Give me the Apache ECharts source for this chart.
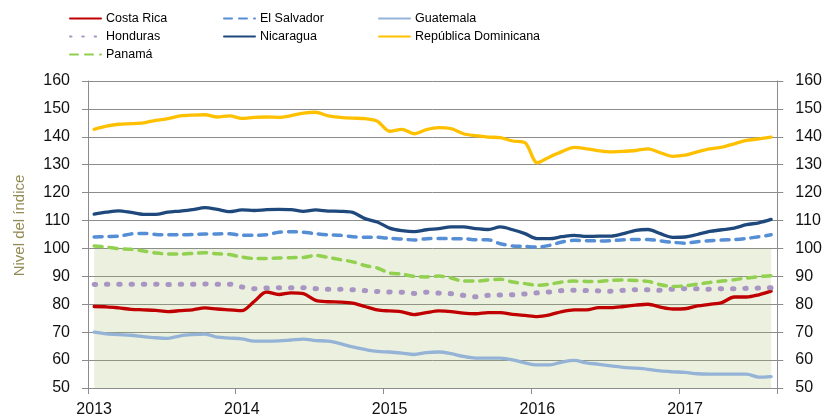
<!DOCTYPE html>
<html>
<head>
<meta charset="utf-8">
<script src="https://cdn.jsdelivr.net/npm/echarts@6/dist/echarts.min.js"></script>
<style>
  html, body { margin: 0; padding: 0; background: #ffffff; }
  #chart { width: 825px; height: 419px; }
</style>
</head>
<body>
<div id="chart"></div>
<script>
const months = [
  '2013-01','2013-02','2013-03','2013-04','2013-05','2013-06','2013-07','2013-08','2013-09','2013-10','2013-11','2013-12',
  '2014-01','2014-02','2014-03','2014-04','2014-05','2014-06','2014-07','2014-08','2014-09','2014-10','2014-11','2014-12',
  '2015-01','2015-02','2015-03','2015-04','2015-05','2015-06','2015-07','2015-08','2015-09','2015-10','2015-11','2015-12',
  '2016-01','2016-02','2016-03','2016-04','2016-05','2016-06','2016-07','2016-08','2016-09','2016-10','2016-11','2016-12',
  '2017-01','2017-02','2017-03','2017-04','2017-05','2017-06','2017-07','2017-08'
];

const costaRica = [
  79.2, 79.1, 78.7, 78.2, 78.0, 77.8, 77.4, 77.7, 78.0, 78.7, 78.3, 78.0, 77.7, 81.0,
  84.4, 83.5, 84.1, 83.8, 81.4, 80.9, 80.8, 80.4, 79.2, 78.0, 77.6, 77.3, 76.3, 77.0,
  77.6, 77.4, 76.8, 76.6, 77.0, 77.0, 76.4, 76.0, 75.6, 76.2, 77.4, 78.0, 78.0, 78.8,
  78.8, 79.2, 79.7, 80.0, 79.0, 78.3, 78.4, 79.4, 80.0, 80.6, 82.6, 82.6, 83.4, 84.7
];
const elSalvador = [
  104.1, 104.3, 104.4, 105.2, 105.4, 105.0, 104.9, 104.9, 105.0, 105.2, 105.2, 105.3, 104.7, 104.7,
  104.9, 105.8, 106.0, 105.8, 105.3, 104.9, 104.7, 104.2, 104.0, 104.0, 103.6, 103.4, 103.0, 103.5,
  103.6, 103.5, 103.5, 103.1, 103.1, 101.7, 100.9, 100.7, 100.5, 101.1, 102.3, 102.9, 102.8, 102.7,
  102.8, 103.1, 103.2, 103.2, 102.7, 102.2, 101.9, 102.4, 102.8, 103.0, 103.2, 103.6, 104.2, 104.9
];
const guatemala = [
  70.0, 69.4, 69.1, 68.9, 68.4, 68.0, 67.8, 68.7, 69.1, 69.3, 68.2, 67.9, 67.6, 66.8,
  66.8, 66.9, 67.2, 67.5, 67.0, 66.8, 65.9, 64.7, 63.8, 63.1, 62.9, 62.5, 62.0, 62.7,
  62.9, 62.3, 61.3, 60.7, 60.7, 60.7, 60.1, 59.0, 58.3, 58.3, 59.3, 59.9, 59.0, 58.5,
  57.9, 57.4, 57.1, 56.7, 56.1, 55.8, 55.6, 55.1, 55.0, 55.0, 55.0, 55.0, 53.9, 54.1
];
const honduras = [
  87.1, 87.2, 87.2, 87.2, 87.2, 87.2, 87.1, 87.2, 87.2, 87.3, 87.2, 87.2, 86.2, 85.6,
  85.8, 85.9, 85.9, 85.9, 85.6, 85.4, 85.4, 85.2, 84.9, 84.6, 84.4, 84.3, 83.9, 84.3,
  84.0, 83.8, 83.2, 82.7, 83.2, 83.3, 83.4, 83.7, 84.1, 84.4, 84.9, 85.0, 84.9, 84.8,
  84.7, 85.0, 85.2, 85.2, 85.0, 85.4, 85.6, 85.6, 85.4, 85.6, 85.6, 85.7, 85.8, 85.9
];
const nicaragua = [
  112.3, 113.0, 113.5, 112.9, 112.2, 112.2, 113.0, 113.4, 113.9, 114.6, 114.0, 113.2, 113.8, 113.6,
  113.9, 114.0, 113.9, 113.3, 113.8, 113.4, 113.3, 112.9, 110.7, 109.5, 107.3, 106.4, 106.0, 106.7,
  107.1, 107.7, 107.7, 107.1, 106.8, 107.7, 106.7, 105.3, 103.5, 103.5, 104.2, 104.7, 104.3, 104.4,
  104.4, 105.3, 106.5, 106.8, 105.3, 104.0, 104.1, 105.0, 106.1, 106.7, 107.3, 108.5, 109.2, 110.4
];
const republicaDominicana = [
  142.7, 143.8, 144.5, 144.7, 145.0, 145.9, 146.5, 147.5, 147.8, 147.9, 147.1, 147.5, 146.6, 147.0,
  147.1, 147.0, 147.6, 148.5, 148.8, 147.5, 147.0, 146.7, 146.5, 145.6, 142.0, 142.7, 141.1, 142.6,
  143.3, 142.9, 141.1, 140.4, 139.9, 139.7, 138.5, 137.9, 130.7, 132.8, 134.7, 136.2, 135.7, 135.0,
  134.6, 134.8, 135.1, 135.7, 134.3, 133.0, 133.4, 134.6, 135.7, 136.3, 137.5, 138.7, 139.3, 139.9
];
const panama = [
  100.9, 100.5, 99.9, 99.7, 99.1, 98.4, 98.0, 98.0, 98.2, 98.5, 98.1, 97.8, 96.9, 96.4,
  96.4, 96.6, 96.7, 96.8, 97.5, 96.8, 96.0, 95.2, 93.9, 93.0, 91.2, 90.8, 90.0, 89.8,
  90.1, 89.4, 88.3, 88.3, 88.7, 89.0, 88.0, 87.4, 86.8, 87.2, 88.0, 88.3, 88.2, 88.2,
  88.6, 88.7, 88.5, 88.2, 87.0, 86.4, 86.6, 87.2, 87.8, 88.3, 88.8, 89.4, 89.9, 90.2
];

// shaded reference band (index range 50–100)
const bandLow = 50;
const bandHigh = 100;

const yMin = 50, yMax = 160, yStep = 10;
const axisTitle = 'Nivel del índice';

const names = ['Costa Rica', 'El Salvador', 'Guatemala', 'Honduras', 'Nicaragua', 'República Dominicana', 'Panamá'];

const chart = echarts.init(document.getElementById('chart'), null, { renderer: 'canvas' });

const gridGray = '#8c8c8c';
const labelFont = 'Liberation Sans, Arial, sans-serif';
const legendFont = '"Liberation Sans", sans-serif';

function mkSeries(name, data, color, type, width) {
  return {
    name: name,
    type: 'line',
    data: data,
    symbol: 'none',
    smooth: 0.3,
    lineStyle: { color: color, width: width, type: type, cap: 'round', join: 'round' },
    itemStyle: { color: color },
    emphasis: { disabled: true }
  };
}

const series = [
  mkSeries(names[0], costaRica, '#C00000', 'solid', 3.3),
  mkSeries(names[1], elSalvador, '#558ED5', [8, 7], 3.5),
  mkSeries(names[2], guatemala, '#95B3D7', 'solid', 3.3),
  mkSeries(names[3], honduras, '#A995C4', [1.5, 10.8], 5),
  mkSeries(names[4], nicaragua, '#1F497D', 'solid', 3.3),
  mkSeries(names[5], republicaDominicana, '#FFC000', 'solid', 3.3),
  mkSeries(names[6], panama, '#92D050', [8, 7], 3.5)
];
series[0].markArea = {
  silent: true,
  itemStyle: { color: 'rgba(155,187,89,0.2)' },
  data: [[
    { xAxis: months[0], yAxis: bandLow },
    { xAxis: months[months.length - 1], yAxis: bandHigh }
  ]]
};

function legendCol(left, data) {
  return {
    orient: 'vertical',
    left: left,
    top: 7,
    itemWidth: 31,
    itemHeight: 14,
    itemGap: 5,
    data: data,
    selectedMode: false,
    itemStyle: { color: 'rgba(0,0,0,0)', borderWidth: 0, opacity: 0 },
    textStyle: { fontFamily: legendFont, fontSize: 12.5, color: '#000000' }
  };
}

const option = {
  animation: false,
  backgroundColor: '#ffffff',
  legend: [
    legendCol(64, [names[0], names[3], names[6]]),
    legendCol(218, [names[1], names[4]]),
    legendCol(373, [names[2], names[5]])
  ],
  grid: { left: 88, right: 45, top: 81, bottom: 31, containLabel: false },
  xAxis: {
    type: 'category',
    data: months,
    boundaryGap: true,
    axisLine: { show: true, lineStyle: { color: gridGray, width: 1 } },
    axisTick: { show: true, interval: 11, length: 6, lineStyle: { color: gridGray } },
    axisLabel: {
      interval: 11,
      margin: 14,
      color: '#111111',
      fontFamily: labelFont,
      fontSize: 16,
      formatter: function (v) { return v.slice(0, 4); }
    },
    splitLine: { show: false }
  },
  yAxis: [
    {
      type: 'value',
      min: yMin, max: yMax, interval: yStep,
      position: 'left',
      name: axisTitle,
      nameLocation: 'middle',
      nameGap: 61,
      nameTextStyle: { color: '#948A54', fontFamily: labelFont, fontSize: 15, padding: [0, 0, 0, 18] },
      axisLine: { show: true, lineStyle: { color: gridGray, width: 1 } },
      axisTick: { show: true, length: 6, lineStyle: { color: gridGray } },
      axisLabel: { margin: 18, color: '#111111', fontFamily: labelFont, fontSize: 16 },
      splitLine: { show: true, lineStyle: { color: gridGray, width: 1 } }
    },
    {
      type: 'value',
      min: yMin, max: yMax, interval: yStep,
      position: 'right',
      axisLine: { show: true, lineStyle: { color: gridGray, width: 1 } },
      axisTick: { show: true, length: 6, lineStyle: { color: gridGray } },
      axisLabel: { margin: 18, color: '#111111', fontFamily: labelFont, fontSize: 16 },
      splitLine: { show: false }
    }
  ],
  series: series
};

chart.setOption(option);
</script>
</body>
</html>
